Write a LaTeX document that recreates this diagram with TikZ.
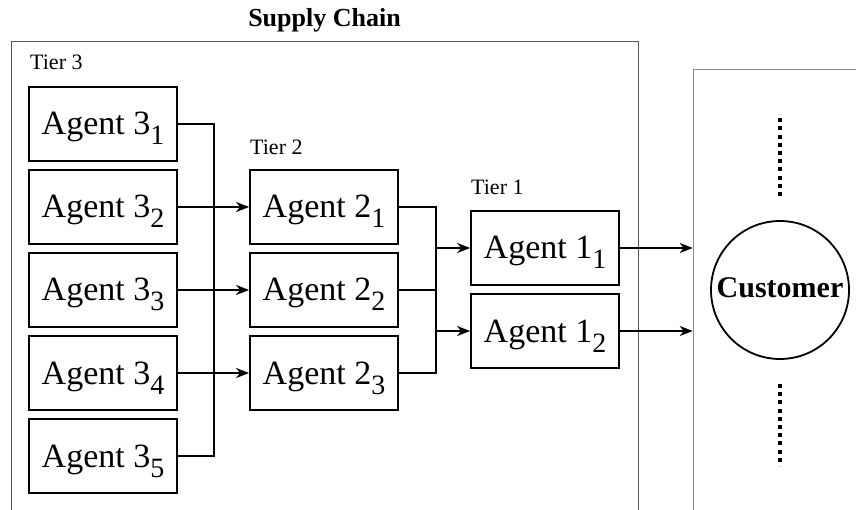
\documentclass[tikz,border=0pt]{standalone}
\usepackage{fontspec}
\setmainfont{Liberation Serif}
\usetikzlibrary{arrows.meta,calc}
\newcommand\agsub[1]{\raisebox{-10pt}{\rmfamily\fontsize{28}{28}\selectfont #1}}
\begin{document}
\begin{tikzpicture}[x=1pt,y=-1pt,
  agent/.style={draw, line width=1.8pt, minimum width=148pt, minimum height=74pt,
    inner sep=0pt, text height=30pt, text depth=8pt, font=\rmfamily\fontsize{34}{34}\selectfont},
  tier/.style={anchor=base west, inner sep=0pt, font=\fontsize{22}{22}\selectfont},
  conn/.style={line width=1.8pt},
  arr/.style={line width=1.8pt, -{Stealth[length=13pt,width=10pt,inset=4pt]}},
  outerbox/.style={draw, anchor=north west, inner sep=0pt},
  dotline/.style={line width=4pt, dash pattern=on 4pt off 4.2pt}
]
\useasboundingbox (0,0) rectangle (856,510);
\clip (0,0) rectangle (856,510);

% outer boxes
\node[outerbox, draw=black!65, line width=1pt, minimum width=626.7pt, minimum height=520pt] (sc) at (11,41) {};
\node[outerbox, draw=black!45, line width=1.5pt, minimum width=300pt, minimum height=500pt] (cb) at (692.7,69) {};

% title and tier labels
\node[anchor=base, inner sep=0pt, font=\bfseries\fontsize{26}{26}\selectfont] (title) at (324.5,27) {Supply Chain};
\node[tier] (t3) at (30,70) {Tier 3};
\node[tier] (t2) at (250,155) {Tier 2};
\node[tier] (t1) at (471,195) {Tier 1};

% tier 3
\node[agent] (a31) at (103,124) {Agent 3\agsub{1}};
\node[agent] (a32) at (103,207) {Agent 3\agsub{2}};
\node[agent] (a33) at (103,290) {Agent 3\agsub{3}};
\node[agent] (a34) at (103,373) {Agent 3\agsub{4}};
\node[agent] (a35) at (103,456) {Agent 3\agsub{5}};

% tier 2
\node[agent] (a21) at (324,207) {Agent 2\agsub{1}};
\node[agent] (a22) at (324,290) {Agent 2\agsub{2}};
\node[agent] (a23) at (324,373) {Agent 2\agsub{3}};

% tier 1
\node[agent] (a11) at (545,248) {Agent 1\agsub{1}};
\node[agent] (a12) at (545,331) {Agent 1\agsub{2}};

% customer
\node[draw, circle, line width=1.8pt, minimum size=138pt, inner sep=0pt,
  text height=20pt, text depth=4pt, font=\bfseries\fontsize{30}{30}\selectfont] (cust) at (780,290) {Customer};
\draw[dotline] ($(cust.north)+(0,-24)$) -- ($(cust.north)+(0,-106)$);
\draw[dotline] ($(cust.south)+(0,24)$) -- ($(cust.south)+(0,106)$);

% tier 3 bus
\coordinate (bus3) at ($(a31.east)+(36,0)$);
\draw[conn] (a31.east) -- (bus3) |- (a35.east);
\draw[arr] (a32.east) -- (a21.west);
\draw[arr] (a33.east) -- (a22.west);
\draw[arr] (a34.east) -- (a23.west);

% tier 2 bus
\coordinate (bus2) at ($(a21.east)+(37,0)$);
\draw[conn] (a21.east) -- (bus2) |- (a23.east);
\draw[conn] (a22.east) -- (bus2 |- a22.east);
\draw[arr] (bus2 |- a11.west) -- (a11.west);
\draw[arr] (bus2 |- a12.west) -- (a12.west);

% to customer
\draw[arr] (a11.east) -- (a11.east -| cb.west);
\draw[arr] (a12.east) -- (a12.east -| cb.west);
\end{tikzpicture}
\end{document}
